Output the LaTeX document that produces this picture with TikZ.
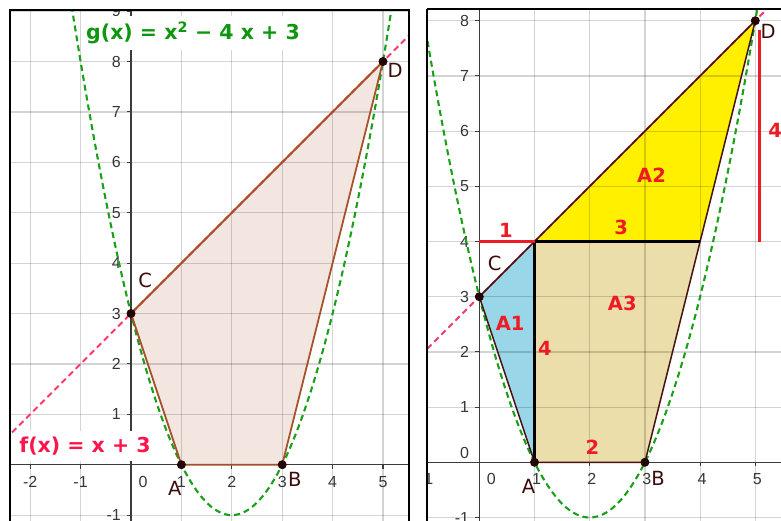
\documentclass[tikz,border=0pt]{standalone}
\usepackage{fontspec}
\setmainfont{Liberation Sans}
\newfontfamily\djv{DejaVu Sans}
\usetikzlibrary{calc}
\definecolor{axc}{RGB}{60,60,60}
\definecolor{tickc}{RGB}{55,55,55}
\definecolor{ptc}{RGB}{35,5,5}
\definecolor{lblc}{RGB}{60,12,12}
\definecolor{redc}{RGB}{237,28,36}
\definecolor{gdc}{RGB}{25,160,25}
\definecolor{gtc}{RGB}{15,150,15}
\definecolor{fdc}{RGB}{255,55,100}
\definecolor{ftc}{RGB}{255,20,75}
\definecolor{pinkF}{RGB}{243,230,224}
\definecolor{brownE}{RGB}{165,80,40}
\definecolor{darkE}{RGB}{70,20,20}
\definecolor{blueF}{RGB}{153,214,232}
\definecolor{yelF}{RGB}{255,240,0}
\definecolor{tanF}{RGB}{236,222,170}
\begin{document}
\begin{tikzpicture}[x=1pt,y=-1pt,
  gridln/.style={draw=black, draw opacity=0.17, line width=1.2pt},
  axisln/.style={draw=axc, line width=1.3pt},
  tickln/.style={draw=axc, line width=1.1pt},
  ticklbl/.style={text=tickc, font=\fontsize{16}{16}\selectfont, inner sep=0pt},
  ptdot/.style={circle, fill=ptc, inner sep=0pt, minimum size=9pt},
  ptlbl/.style={text=lblc, font=\djv\fontsize{19.5}{19.5}\selectfont, inner sep=0pt},
  redlbl/.style={text=redc, font=\djv\bfseries\fontsize{19.5}{19.5}\selectfont, inner sep=0pt},
  gdash/.style={draw=gdc, line width=2.1pt, dash pattern=on 6pt off 4pt},
  fdash/.style={draw=fdc, line width=1.9pt, dash pattern=on 6pt off 4pt},
  ledge/.style={draw=brownE, line width=1.8pt, line join=round},
  redge/.style={draw=darkE, line width=1.5pt, line join=round},
  blackln/.style={draw=black, line width=3.5pt},
  redln/.style={draw=redc, line width=3pt},
  panelframe/.style={draw=black, line width=2pt},
  formula/.style={font=\djv\bfseries\fontsize{20.5}{20.5}\selectfont, fill=white, inner xsep=3pt, inner ysep=6pt},
]
\useasboundingbox (0,0) rectangle (781,520);
\fill[white] (0,0) rectangle (781,520);

% ---------------- left panel ----------------
\begin{scope}
\clip (10,10) rectangle (409,530);
\begin{scope}[shift={(131,464.7)}, x=50.4pt, y=50.4pt]
  \coordinate (lA) at (1,0);
  \coordinate (lB) at (3,0);
  \coordinate (lC) at (0,3);
  \coordinate (lD) at (5,8);
  \fill[pinkF] (lA) -- (lB) -- (lD) -- (lC) -- cycle;
  \foreach \i in {-2,...,5} \draw[gridln] (\i,-1.2) -- (\i,9.2);
  \foreach \j in {-1,...,9} \draw[gridln] (-2.5,\j) -- (5.6,\j);
  \coordinate (lxa) at (-2.5,0); \coordinate (lxb) at (5.6,0);
  \coordinate (lya) at (0,-1.2); \coordinate (lyb) at (0,9.2);
  \draw[axisln] (lxa) -- (lxb);
  \draw[axisln] (lya) -- (lyb);
  \foreach \i in {-2,...,5} \draw[tickln] (\i,0) -- ++(0pt,-4pt);
  \foreach \j in {-1,...,9} \draw[tickln] (0,\j) -- ++(-4pt,0pt);
  \foreach \i in {-2,-1,1,2,3,4,5} \node[ticklbl] (ltx\i) at ([yshift=-17pt]\i,0) {\i};
  \node[ticklbl] (ltx0) at ([xshift=12pt,yshift=-17pt]0,0) {0};
  \foreach \j in {-1,1,2,3,4,5,6,7,8,9} \node[ticklbl, anchor=east] (lty\j) at ([xshift=-10pt]0,\j) {\j};
  \draw[gdash] plot[domain=-1.3:5.3, samples=120, smooth] (\x,{(\x)*(\x)-4*(\x)+3});
  \coordinate (lf1) at (-2.5,0.5); \coordinate (lf2) at (5.6,8.6);
  \draw[fdash] (lf1) -- (lf2);
  \draw[ledge] (lA) -- (lB) -- (lD) -- (lC) -- cycle;
  \foreach \p in {lA,lB,lC,lD} \node[ptdot] (\p dot) at (\p) {};
  \node[ptlbl] (lAl) at (0.87,-0.47) {A};
  \node[ptlbl] (lBl) at (3.25,-0.30) {B};
  \node[ptlbl] (lCl) at (0.28,3.66) {C};
  \node[ptlbl] (lDl) at (5.24,7.82) {D};
\end{scope}
\node[formula, text=gtc] (gtext) at (193,33) {g(x) = x\textsuperscript{2} − 4 x + 3};
\node[formula, text=ftc] (ftext) at (85,446) {f(x) = x + 3};
\end{scope}
\draw[panelframe] (10,10) rectangle (409,530);

% ---------------- right panel ----------------
\begin{scope}
\clip (427.3,9) rectangle (800,530);
\begin{scope}[shift={(479.3,462.3)}, x=55.2pt, y=55.2pt]
  \coordinate (rA) at (1,0);
  \coordinate (rB) at (3,0);
  \coordinate (rC) at (0,3);
  \coordinate (rD) at (5,8);
  \coordinate (rE) at (1,4);
  \coordinate (rF) at (4,4);
  \fill[blueF] (rC) -- (rE) -- (rA) -- cycle;
  \fill[yelF] (rE) -- (rF) -- (rD) -- cycle;
  \fill[tanF] (rA) -- (rB) -- (rF) -- (rE) -- cycle;
  \foreach \i in {-1,...,5} \draw[gridln] (\i,-1.2) -- (\i,8.4);
  \foreach \j in {-1,...,8} \draw[gridln] (-1.2,\j) -- (5.8,\j);
  \coordinate (rxa) at (-1.2,0); \coordinate (rxb) at (5.8,0);
  \coordinate (rya) at (0,-1.2); \coordinate (ryb) at (0,8.4);
  \draw[axisln] (rxa) -- (rxb);
  \draw[axisln] (rya) -- (ryb);
  \foreach \i in {-1,...,5} \draw[tickln] (\i,0) -- ++(0pt,-4pt);
  \foreach \j in {-1,...,8} \draw[tickln] (0,\j) -- ++(-4pt,0pt);
  \foreach \i in {-1,1,2,3,4,5} \node[ticklbl] (rtx\i) at ([xshift=2pt,yshift=-17pt]\i,0) {\i};
  \node[ticklbl] (rtx0) at ([xshift=12pt,yshift=-17pt]0,0) {0};
  \foreach \j in {-1,1,2,3,4,5,6,7,8} \node[ticklbl, anchor=east] (rty\j) at ([xshift=-10pt]0,\j) {\j};
  \node[ticklbl, anchor=east] (rty0) at ([xshift=-10pt,yshift=9pt]0,0) {0};
  \draw[gdash] plot[domain=-1.2:5.2, samples=120, smooth] (\x,{(\x)*(\x)-4*(\x)+3});
  \coordinate (rf1) at (-1.2,1.8); \coordinate (rf2) at (5.5,8.5);
  \draw[fdash] (rf1) -- (rf2);
  \draw[redge] (rA) -- (rB) -- (rD) -- (rC) -- cycle;
  \draw[blackln] (rA) -- (rE) -- (rF);
  \coordinate (rR1) at (0,4);
  \draw[redln] (rR1) -- (rE);
  \coordinate (rR2) at (5.07,4); \coordinate (rR3) at (5.07,7.84);
  \draw[redln] (rR2) -- (rR3);
  \foreach \p in {rA,rB,rC,rD} \node[ptdot] (\p dot) at (\p) {};
  \node[ptlbl] (rAl) at (0.89,-0.44) {A};
  \node[ptlbl] (rBl) at (3.24,-0.29) {B};
  \node[ptlbl] (rCl) at (0.28,3.61) {C};
  \node[ptlbl] (rDl) at (5.23,7.80) {D};
  \node[redlbl] (lbl1) at (0.48,4.21) {1};
  \node[redlbl] (lbl3) at (2.57,4.25) {3};
  \node[redlbl] (lblA2) at (3.12,5.20) {A2};
  \node[redlbl] (lbl4r) at (5.36,6.02) {4};
  \node[redlbl] (lblA1) at (0.56,2.51) {A1};
  \node[redlbl] (lbl4) at (1.19,2.07) {4};
  \node[redlbl] (lblA3) at (2.59,2.87) {A3};
  \node[redlbl] (lbl2) at (2.05,0.28) {2};
\end{scope}
\end{scope}
\draw[panelframe] (427.3,9) -- (800,9);
\draw[panelframe] (427.3,530) -- (427.3,9);
\end{tikzpicture}
\end{document}
